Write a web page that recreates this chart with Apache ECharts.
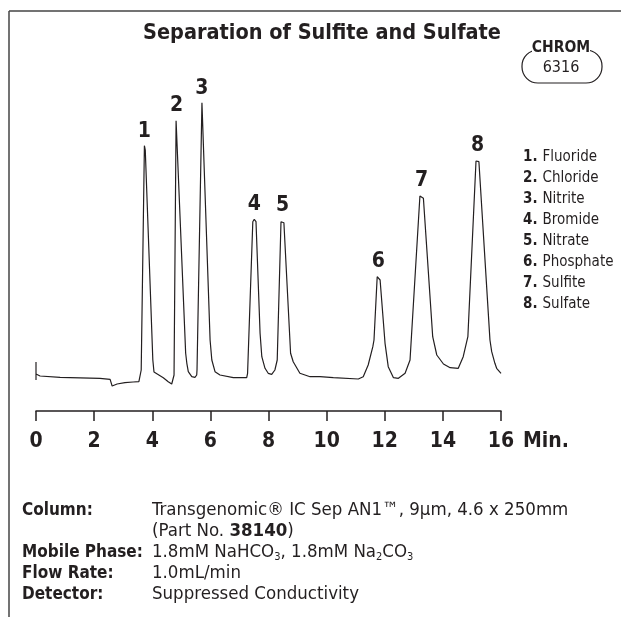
<!DOCTYPE html>
<html>
<head>
<meta charset="utf-8">
<script src="https://cdn.jsdelivr.net/npm/echarts@6/dist/echarts.min.js"></script>
<style>
  html, body { margin: 0; padding: 0; background: #fff; }
  #chart { width: 621px; height: 617px; }
</style>
</head>
<body>
<div id="chart"></div>
<script>
// detector trace: time (min) / signal (arbitrary units)
var traceTime = [0, 0, 0, 0.04, 0.14, 0.83, 2.20, 2.55, 2.62, 2.79, 3.06, 3.34, 3.54,
  3.60, 3.62, 3.73, 3.76, 4.02, 4.06, 4.09, 4.38, 4.55, 4.67,
  4.75, 4.82, 4.84, 5.15, 5.19, 5.24, 5.36, 5.47, 5.53,
  5.54, 5.71, 5.99, 6.05, 6.16, 6.33, 6.79, 7.25,
  7.28, 7.46, 7.51, 7.57, 7.71, 7.77, 7.88, 7.99, 8.11,
  8.22, 8.30, 8.43, 8.48, 8.53, 8.76, 8.85, 9.08, 9.43, 9.77, 10.23, 11.09,
  11.26, 11.43, 11.59, 11.63, 11.74, 11.78, 11.84, 12.01, 12.12, 12.30, 12.47, 12.70, 12.87,
  13.21, 13.27, 13.33, 13.65, 13.79, 14.02, 14.25, 14.53, 14.70, 14.86,
  15.14, 15.19, 15.24, 15.62, 15.68, 15.79, 15.85, 16.0];
var traceSignal = [31, 49, 37, 36.7, 35, 33.7, 32.7, 31.7, 25, 27, 28.3, 29, 29.3,
  31, 41, 265.3, 261, 51, 39, 37, 33.3, 29.3, 27,
  36, 290.3, 291, 57.7, 47.7, 39.3, 34.3, 33.7, 36,
  41, 308.3, 71, 51, 39.3, 36, 33.3, 33.3,
  37.7, 189.3, 191.7, 189.3, 77.7, 54.3, 42.7, 37.7, 36.7,
  41, 51, 189.3, 191, 188.3, 57.7, 49.3, 37.7, 34.3, 34.3, 33.3, 32,
  34.3, 46, 64.3, 71, 134.3, 135.3, 131, 67.7, 44.3, 33.3, 32.7, 37.7, 51,
  215, 216, 212.7, 74.3, 56, 47, 43.3, 42.7, 54.3, 74.3,
  250, 251, 249.3, 71, 59.3, 47.7, 42.7, 37.7];

// peak numbers
var peakTime = [3.73, 4.84, 5.71, 7.51, 8.48, 11.78, 13.27, 15.19];
var peakHeight = [265.3, 291, 308.3, 191.7, 191, 135.3, 216, 251];
var analytes = ['Fluoride', 'Chloride', 'Nitrite', 'Bromide', 'Nitrate', 'Phosphate', 'Sulfite', 'Sulfate'];

var xTicks = [0, 2, 4, 6, 8, 10, 12, 14, 16];

var condLabels = ['Column:', '', 'Mobile Phase:', 'Flow Rate:', 'Detector:'];
var condValues = [
  'Transgenomic® IC Sep AN1™, 9µm, 4.6 x 250mm',
  '(Part No. {b|38140})',
  '1.8mM NaHCO{s|3}, 1.8mM Na{s|2}CO{s|3}',
  '1.0mL/min',
  'Suppressed Conductivity'
];

var FONT = '"DejaVu Sans Condensed", "Liberation Sans Narrow", sans-serif';
var INK = '#231f20';

var chart = echarts.init(document.getElementById('chart'));

var line = traceTime.map(function (t, i) { return [t, traceSignal[i]]; });
var peaks = peakTime.map(function (t, i) { return { value: [t, peakHeight[i]], name: String(i + 1) }; });

var legendText = analytes.map(function (n, i) {
  return '{n|' + (i + 1) + '.} {t|' + n + '}';
}).join('\n');

option = {
  backgroundColor: '#fff',
  animation: false,
  title: [
    {
      text: 'Separation of Sulfite and Sulfate',
      left: 143,
      top: 22,
      padding: 0,
      textStyle: { fontFamily: FONT, fontSize: 21.5, fontWeight: 'bold', color: INK }
    },
    {
      text: legendText,
      left: 523,
      top: 147,
      padding: 0,
      textStyle: {
        fontWeight: 'normal',
        rich: {
          n: { fontFamily: FONT, fontSize: 15, fontWeight: 'bold', color: INK, lineHeight: 21 },
          t: { fontFamily: FONT, fontSize: 15, fontWeight: 'normal', color: INK, lineHeight: 21 }
        }
      }
    },
    {
      text: condLabels.join('\n'),
      left: 22,
      top: 500,
      padding: 0,
      textStyle: { fontFamily: FONT, fontSize: 17, fontWeight: 'bold', color: INK, lineHeight: 21 }
    },
    {
      text: condValues.join('\n'),
      left: 152,
      top: 500,
      padding: 0,
      textStyle: {
        fontFamily: FONT, fontSize: 18.5, fontWeight: 'normal', color: INK, lineHeight: 21,
        rich: {
          b: { fontFamily: FONT, fontSize: 18.5, fontWeight: 'bold', color: INK, lineHeight: 21 },
          s: { fontFamily: FONT, fontSize: 11, fontWeight: 'normal', color: INK, lineHeight: 21, verticalAlign: 'bottom', padding: [6, 0, 0, 0] }
        }
      }
    }
  ],
  grid: { left: 36, right: 120, top: 91, bottom: 206 },
  xAxis: {
    type: 'value',
    min: 0,
    max: 16,
    interval: 2,
    name: 'Min.',
    nameLocation: 'end',
    nameGap: 22,
    nameTextStyle: {
      fontFamily: FONT, fontSize: 21, fontWeight: 'bold', color: INK,
      verticalAlign: 'top', align: 'left', padding: [20, 0, 0, 0]
    },
    axisLine: { lineStyle: { color: INK, width: 1.5 } },
    axisTick: { length: 10, lineStyle: { color: INK, width: 1.5 } },
    splitLine: { show: false },
    axisLabel: {
      margin: 20,
      fontFamily: FONT, fontSize: 21, fontWeight: 'bold', color: INK,
      formatter: function (v) { return xTicks.indexOf(v) >= 0 ? String(v) : ''; }
    }
  },
  yAxis: {
    type: 'value',
    min: 0,
    max: 320,
    show: false
  },
  series: [
    {
      type: 'line',
      data: line,
      showSymbol: false,
      symbol: 'none',
      lineStyle: { color: INK, width: 1.2 },
      silent: true
    },
    {
      type: 'scatter',
      data: peaks,
      symbolSize: 0,
      itemStyle: { color: INK, opacity: 1 },
      label: {
        show: true,
        position: 'top',
        distance: 4,
        formatter: '{b}',
        opacity: 1,
        fontFamily: FONT, fontSize: 21, fontWeight: 'bold', color: INK
      },
      silent: true
    }
  ],
  graphic: [
    // page frame
    { type: 'line', shape: { x1: 9, y1: 11, x2: 621, y2: 11 }, style: { stroke: '#444', lineWidth: 1.5 } },
    { type: 'line', shape: { x1: 9, y1: 11, x2: 9, y2: 617 }, style: { stroke: '#444', lineWidth: 1.5 } },
    // CHROM stamp
    { type: 'rect', shape: { x: 522, y: 50, width: 80, height: 33, r: 16 }, style: { fill: 'none', stroke: INK, lineWidth: 1.2 } },
    { type: 'rect', shape: { x: 532, y: 40, width: 58, height: 16 }, style: { fill: '#fff' } },
    { type: 'text', x: 561, y: 48, style: { text: 'CHROM', fontFamily: FONT, fontSize: 15.5, fontWeight: 'bold', fill: INK, align: 'center', verticalAlign: 'middle' } },
    { type: 'text', x: 561, y: 68, style: { text: '6316', fontFamily: FONT, fontSize: 16, fill: INK, align: 'center', verticalAlign: 'middle' } }
  ]
};

chart.setOption(option);
</script>
</body>
</html>
